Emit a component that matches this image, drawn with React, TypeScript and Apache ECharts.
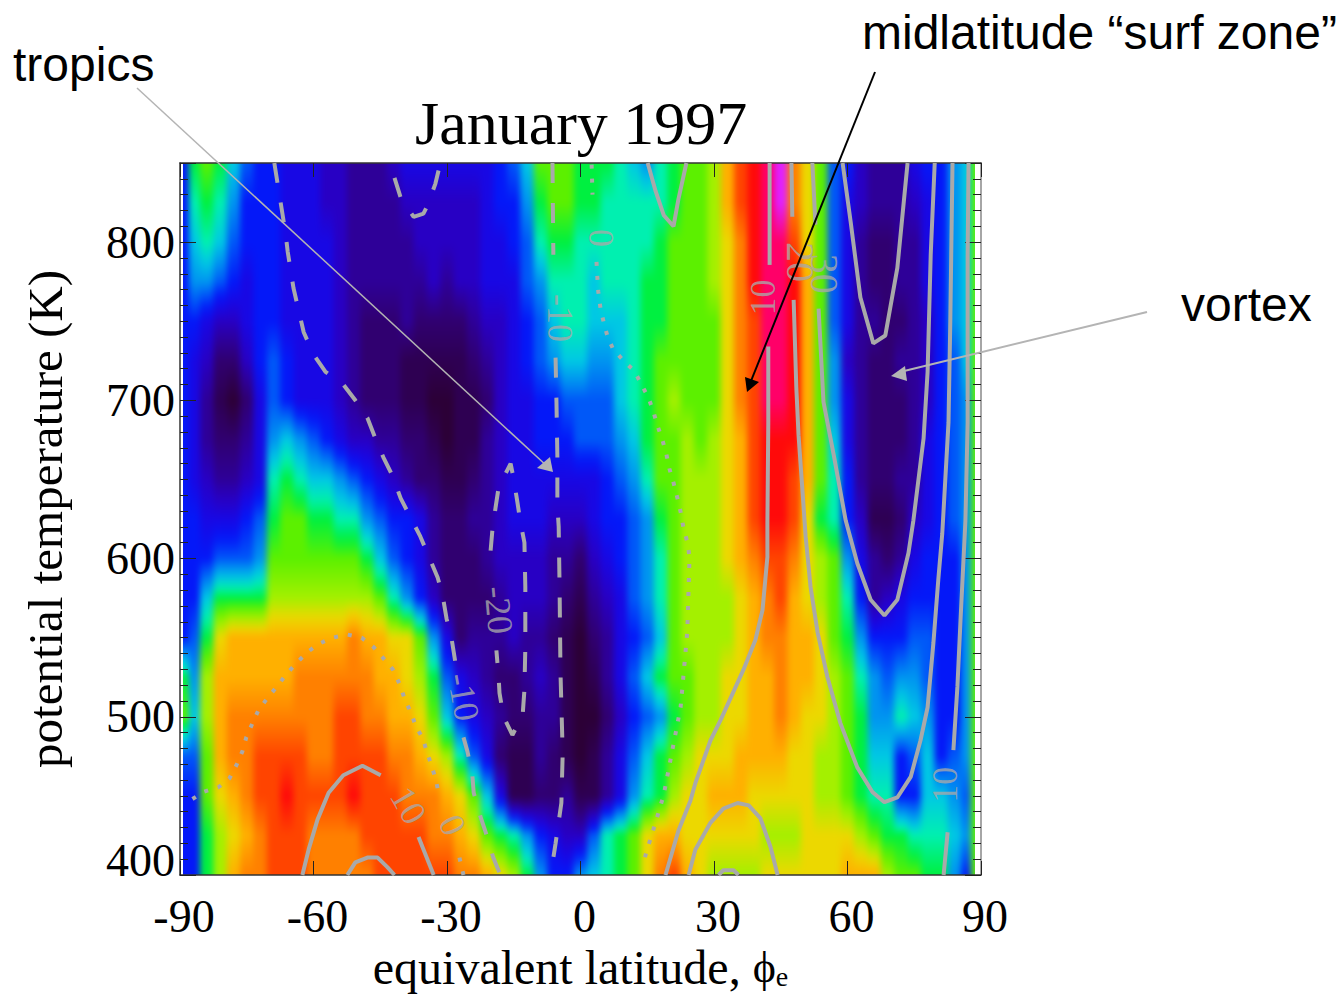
import React, { useEffect, useRef } from "react";
import * as echarts from "echarts";

const SERIF = "Liberation Serif";
const SANS = "Liberation Sans";
const GRID = { left: 180, top: 163, width: 801, height: 712, outerBoundsMode: "none" };

const latitudes = [-89,-87,-84,-81,-78,-75,-72,-69,-66,-63,-60,-57,-54,-51,-48,-45,-42,-39,-36,-33,-30,-27,-24,-21,-18,-15,-12,-9,-6,-3,0,3,6,9,12,15,18,21,24,27,30,33,36,39,42,45,48,51,54,57,60,63,66,69,72,75,78,81,84,87,88.5];
const latitudeEdgeMin = -89.3;
const latitudeEdgeMax = 88.9;

const thetaLevels = [850,825,800,775,750,725,700,675,650,625,600,575,550,525,500,475,450,425,400];

const row850 = [6,11,12,11,9,7,6,6,5,5, 5,4,4,3,3,3,4,5,5,5, 5,5,5,5,6,7,9,12,12,12, 11,11,11,10,9,8,10,11,12,12, 13,15,17,18,19,20,16,14,12,7, 6,4,3,3,3,5,6,6,8,9,12];
const row825 = [6,10,11,10,8,6,6,6,5,5, 5,4,4,3,3,3,3,4,4,4, 4,4,4,5,6,6,8,11,12,12, 11,11,10,10,10,10,10,11,12,12, 13,15,17,18,19,20,16,14,12,7, 5,4,3,3,3,4,5,6,8,9,12];
const row800 = [6,9,10,9,7,6,6,6,5,5, 5,5,4,3,3,3,3,3,4,4, 4,4,4,5,5,6,7,10,11,11, 10,10,10,10,10,10,11,12,12,12, 13,14,16,18,19,19,17,14,12,7, 5,3,2,2,3,3,5,6,8,9,12];
const row775 = [6,8,8,7,6,5,6,6,5,5, 5,5,4,3,3,3,3,3,3,4, 3,4,4,5,5,5,7,8,10,10, 10,9,10,10,10,11,11,12,12,12, 13,14,16,18,19,19,18,15,12,7, 5,3,2,2,3,3,5,6,8,9,12];
const row750 = [6,6,5,4,4,5,6,6,5,5, 5,5,4,3,2,2,2,3,2,2, 2,2,3,4,4,5,6,7,9,10, 10,9,9,9,10,11,11,12,12,12, 12,14,16,17,19,19,18,15,12,7, 5,3,3,2,2,3,4,6,8,9,12];
const row725 = [6,5,4,2,2,4,6,7,6,5, 5,5,4,3,2,2,2,1,1,1, 1,1,2,3,4,5,6,7,8,9, 9,8,8,9,10,11,12,12,12,12, 12,14,16,17,19,19,18,15,12,8, 4,3,2,2,3,3,4,6,7,9,12];
const row700 = [6,5,3,1,0,2,5,7,6,5, 5,5,4,3,2,2,2,1,1,0, 0,1,1,2,4,5,5,6,6,7, 7,7,7,9,10,11,12,13,12,12, 12,14,16,17,19,19,18,15,12,8, 5,3,2,2,2,3,4,6,7,8,12];
const row675 = [6,5,3,2,2,3,5,8,9,8, 7,6,5,4,4,3,3,2,2,1, 0,1,1,3,4,5,5,6,6,6, 7,7,7,8,9,11,12,12,13,12, 13,14,15,17,18,18,18,15,12,9, 5,3,2,2,2,3,5,6,7,8,12];
const row650 = [6,5,4,3,3,4,5,10,11,10, 9,9,8,7,6,5,4,3,2,2, 1,1,2,3,4,5,5,5,5,5, 5,5,6,7,8,10,12,12,13,13, 13,14,15,17,18,18,17,15,12,10, 6,3,2,2,3,3,5,6,7,8,12];
const row625 = [6,6,5,5,5,6,7,11,12,12, 11,11,10,10,8,7,6,6,5,3, 2,2,3,3,4,5,5,5,4,4, 4,5,6,6,7,8,11,12,13,13, 13,14,15,17,18,18,17,14,11,10, 6,4,1,1,2,4,5,6,7,8,12];
const row600 = [6,6,6,7,7,7,8,12,12,12, 12,12,12,12,11,9,7,6,5,3, 2,2,2,3,4,4,4,4,3,3, 2,4,5,6,7,8,10,12,13,13, 13,14,15,16,17,17,16,14,13,12, 8,5,3,2,3,5,6,6,6,8,12];
const row575 = [6,6,9,11,11,11,11,13,13,13, 13,13,13,13,13,12,10,8,6,4, 2,2,2,2,3,4,4,4,3,2, 1,3,4,5,7,8,10,12,13,13, 13,13,14,15,16,17,15,14,13,12, 10,6,3,4,5,6,6,6,6,8,12];
const row550 = [6,7,11,14,15,15,15,15,15,15, 15,15,15,16,15,15,14,14,12,8, 5,2,3,3,3,4,3,3,2,1, 0,2,3,5,6,7,9,12,13,13, 13,13,14,15,16,16,15,15,14,12, 11,8,6,6,6,7,7,6,6,8,12];
const row525 = [11,8,13,15,15,15,15,15,15,16, 16,16,16,16,16,15,15,14,13,11, 7,5,4,3,2,2,3,4,3,1, 0,1,3,5,7,9,11,12,12,13, 13,14,14,15,15,16,15,15,14,13, 12,10,8,7,8,8,7,6,6,8,12];
const row500 = [12,9,13,15,16,16,16,16,16,16, 16,16,17,17,16,16,15,15,14,12, 9,6,5,4,3,2,2,3,3,1, 0,0,2,4,6,7,8,11,12,13, 13,14,14,15,15,16,15,14,14,13, 12,11,8,8,10,9,8,6,6,8,12];
const row475 = [7,7,12,15,16,16,17,17,17,17, 16,16,17,17,17,17,16,16,15,14, 13,10,7,5,2,1,1,3,2,1, 0,1,3,5,7,9,11,12,13,14, 14,14,15,15,15,15,14,14,13,13, 12,11,9,9,6,7,9,6,7,8,12];
const row450 = [6,6,12,14,15,16,17,17,18,17, 17,17,17,18,17,17,17,16,16,16, 15,14,12,9,5,1,1,2,2,3, 1,1,3,5,8,10,11,13,14,14, 15,15,15,14,14,14,14,14,13,13, 12,11,10,10,6,6,9,9,8,7,12];
const row425 = [6,6,11,13,14,15,16,17,17,17, 16,16,16,16,17,17,17,17,17,16, 16,15,14,12,11,10,8,6,5,4, 4,7,10,11,12,14,15,15,14,14, 14,14,14,14,13,13,13,14,14,14, 14,13,12,11,11,10,10,10,9,8,12];
const row400 = [6,6,11,13,15,16,16,17,17,17, 16,16,16,16,16,17,17,17,17,17, 17,16,16,15,14,13,11,8,6,6, 8,9,10,11,12,14,16,17,15,14, 13,13,13,13,14,14,14,14,14,14, 15,15,15,13,12,12,11,11,8,6,12];
const fieldRows = [row850,row825,row800,row775,row750,row725,row700,row675,row650,row625,row600,row575,row550,row525,row500,row475,row450,row425,row400];

const levelColors = ["#2c0036","#2e0052","#300070","#2e0098","#2800c4","#1808e4","#0418f8","#0058f8","#0094f0","#00c8e4","#00f0b0","#00f040","#5cf000","#a4f000","#ecd800","#ffb000","#ff8000","#ff4400","#ff0a0a","#ff0068","#e020ff"];

const yTicks = [400,500,600,700,800];
const xTicks = [-90,-60,-30,0,30,60,90];

const dashSouthA = [[-68.8,850],[-67.9,834],[-66.3,806],[-65.8,794],[-64.5,771],[-62.2,743],[-60,729],[-57.3,718],[-53.3,710],[-50.6,700],[-47.9,689],[-46.1,676],[-44.3,664],[-42.2,652],[-40.4,638],[-38.2,626],[-36,614],[-34.2,602],[-32.1,588],[-31,577],[-30.1,562],[-29,550],[-28.1,534]];
const dashSouthB = [[-26.3,487],[-25.4,478],[-24.3,463],[-24,452],[-22.5,437],[-21.3,427],[-19.6,411],[-18,400]];
const dashEqA = [[-6.3,850],[-6.1,792]];
const dashEqB = [[-5.6,727],[-5.4,699],[-5.2,665],[-5.2,634],[-4.9,620],[-4.7,582],[-4.5,528],[-4,477],[-4.3,445.5],[-5.6,420],[-6.7,400]];
const dashTop = [[-41.8,840.6],[-40.4,828],[-37.5,816],[-35.3,818],[-34.4,823],[-32.6,837],[-31.5,850]];
const dashLobeA = [[-20.2,605],[-19.8,618],[-19.1,632],[-18.4,645],[-15.7,660],[-15.1,651.6],[-14.2,636],[-13.5,623],[-12.6,610],[-12.4,582],[-12.4,544],[-12.6,517],[-13,501],[-15.3,488.5],[-17.3,500],[-18.2,515],[-18.4,525],[-18.9,542]];
const dotSouthA = [[-87.2,448],[-84.7,452.5],[-81.3,455.6],[-78.9,461],[-77.3,469.5],[-76,478],[-75.1,487],[-73.7,496],[-72.4,504],[-70.3,512],[-68.1,519.5],[-66.1,527],[-63.8,534],[-61.3,541],[-58.9,546],[-55.7,550],[-52.4,552],[-49.2,550],[-46.5,544],[-44.3,537],[-42.2,530],[-40.7,521],[-39.6,512],[-38.2,503],[-36.9,493.5],[-35.5,486.6],[-34.4,477],[-33.3,467.6],[-32.4,459],[-31.7,449]];
const dotSouthB = [[-27.2,411],[-26.3,400]];
const dotNorthA = [[2.5,849],[2.7,830]];
const dotNorthB = [[3.6,787.5],[3.8,777],[4,768.5],[4.5,758],[5.2,749.5],[6.1,740],[7.4,732],[9.7,725],[12.1,718.6],[13.7,710],[15.3,701.5],[16.4,692.7],[17.3,684],[18.4,675],[19.3,666],[20,656.6],[20.9,648],[21.8,638],[22.5,629.5],[23.1,620],[24,610.5],[24.5,601],[24.3,582],[24,553.6],[23.4,534.6],[22.5,506],[21.3,488.5],[20,469.5],[18.7,450.6],[16.9,433.5],[14.8,414.5],[13.9,405]];
const solidSouth10A = [[-62.5,400],[-61.1,416],[-59.1,435],[-56.6,452],[-53.3,463],[-49,469],[-44.9,463]];
const solidSouth10B = [[-36.4,424],[-33,400]];
const solidSouth20 = [[-52.4,400],[-50.6,408],[-47.9,411],[-45.6,411],[-43.4,405],[-41.8,400]];
const solidTopU = [[15.1,850],[16.9,832],[18.7,817],[20.9,810],[22,827],[23.8,850]];
const solid10A = [[42.5,850],[42.5,785.6]];
const solid10B = [[42.2,734],[42.2,686],[42,623],[42,601],[40.9,567.5],[39.3,548.5],[36.6,529.6],[31.5,498],[29.2,485],[25.8,458],[24.7,447],[22,428],[19.1,400]];
const solidArc = [[24.3,400],[25.8,416],[29.2,433],[32.1,442],[35.3,445.5],[37.8,444],[40.4,436],[42.7,417.7],[44.3,400]];
const solidTiny = [[31,400],[32.1,403],[34.4,403],[35.5,400]];
const solid20A = [[47.4,850],[47.6,816]];
const solid20B = [[47.9,763.5],[48.5,708],[49,678],[50.1,634],[50.6,613.7],[51.7,582],[53.3,553],[55.5,525],[58.4,496],[62.2,468],[65.6,452.5],[68.3,446],[71.2,449],[74.2,462],[76.4,485],[78,506],[79.3,546.6],[80.4,586.5],[81.3,616],[82.7,686],[83.1,749.5],[83.6,850]];
const solid30A = [[52.1,850],[52.8,811]];
const solid30B = [[53.5,758],[54.6,699],[56.9,665.5],[59.6,624],[62.2,597],[65.2,574],[68.3,564],[71.2,574],[73.7,603.5],[74.8,624],[77.1,676],[78,718],[78.7,792],[79.6,850]];
const solidVortex = [[58.9,850],[60.7,813],[62.9,765],[65.8,736],[68.5,741],[71.2,783.7],[73.5,850]];
const solidFarA = [[87.2,850],[87,792],[87,686],[86.5,624],[85.4,561],[84.7,519],[83.8,479]];
const solidFarB = [[82.5,427],[81.6,400]];

const dashedLines = [dashSouthA,dashSouthB,dashEqA,dashEqB,dashTop,dashLobeA];
const dottedLines = [dotSouthA,dotSouthB,dotNorthA,dotNorthB];
const solidLines = [solidSouth10A,solidSouth10B,solidSouth20,solidTopU,solid10A,solid10B,solidArc,solidTiny,solid20A,solid20B,solid30A,solid30B,solidVortex,solidFarA,solidFarB];

const contourLabels: [number, number, string, number, number][] = [
  [-4.5,752,"-10",-90,36],[4.5,802.6,"0",-90,36],[40.9,765,"10",90,36],[49.4,787.5,"20",-90,40],[54.8,780,"30",-90,40],
  [-38.7,444,"10",-60,36],[-28.8,431.6,"0",-65,36],[-26.3,512.5,"-10",-80,36],[-18.4,567.5,"-20",-85,36],[82,457,"10",90,36],
];

const GRAY = "#a9a9a9";

function colorAt(level: number) {
  return echarts.color.lerp(level / 20, levelColors) as string;
}

function fieldOption() {
  const data = latitudes.map((lat, i) => {
    const l = i === 0 ? latitudeEdgeMin : (latitudes[i - 1] + lat) / 2;
    const r = i === latitudes.length - 1 ? latitudeEdgeMax : (lat + latitudes[i + 1]) / 2;
    return [l, r, i];
  });
  const pad = 20;
  return {
    animation: false,
    grid: GRID,
    xAxis: { type: "value", min: -90, max: 90, show: false },
    yAxis: { type: "value", min: 400, max: 850, show: false },
    series: [{
      type: "custom",
      clip: false,
      silent: true,
      data,
      encode: { x: [0, 1] },
      renderItem(_: any, api: any) {
        const col = api.value(2);
        const x0 = api.coord([api.value(0), 850])[0];
        const x1 = api.coord([api.value(1), 850])[0];
        const top = api.coord([0, 850])[1] - pad;
        const bot = api.coord([0, 400])[1] + pad;
        const h = bot - top;
        const stops: { offset: number; color: string }[] = [];
        stops.push({ offset: 0, color: colorAt(fieldRows[0][col]) });
        thetaLevels.forEach((t, ri) => {
          const v = fieldRows[ri][col];
          const y = api.coord([0, t])[1];
          if (ri === 0) { stops.push({ offset: (y - top) / h, color: colorAt(v) }); return; }
          const prevV = fieldRows[ri - 1][col];
          const prevY = api.coord([0, thetaLevels[ri - 1]])[1];
          for (let k = 1; k <= 5; k++) {
            const f = k / 5;
            stops.push({ offset: (prevY + (y - prevY) * f - top) / h, color: colorAt(prevV + (v - prevV) * f) });
          }
        });
        stops.push({ offset: 1, color: colorAt(fieldRows[fieldRows.length - 1][col]) });
        const edgeL = col === 0 ? x0 - pad : x0;
        const edgeR = col === latitudes.length - 1 ? x1 + pad : x1;
        return {
          type: "rect",
          shape: { x: edgeL, y: top, width: edgeR - edgeL + 1, height: h },
          style: { fill: new echarts.graphic.LinearGradient(0, 0, 0, 1, stops) },
        };
      },
    }],
  };
}

function lineSeries(lines: number[][][], type: any, cap: string) {
  return lines.map((d) => ({
    type: "line",
    data: d,
    showSymbol: false,
    silent: true,
    clip: true,
    z: 3,
    lineStyle: { color: GRAY, width: 4, type, cap },
  }));
}

function arrow(line: number[], head: number[][], color: string, width: number) {
  return [
    { type: "line", z: 100, shape: { x1: line[0], y1: line[1], x2: line[2], y2: line[3] }, style: { stroke: color, lineWidth: width } },
    { type: "polygon", z: 100, shape: { points: head }, style: { fill: color } },
  ];
}

function note(text: string, x: number, y: number) {
  return { type: "text", z: 100, x, y, style: { text, fill: "#000", font: `48px "${SANS}"`, textAlign: "left", textVerticalAlign: "middle" } };
}

function overlayOption() {
  const yAxisBase = {
    type: "value", min: 400, max: 850, interval: 100, minorTick: { show: true, splitNumber: 10, length: 8, lineStyle: { color: "#222", width: 1 } },
    splitLine: { show: false }, minorSplitLine: { show: false },
    axisTick: { show: true, inside: true, length: 16, lineStyle: { color: "#222", width: 1 } },
  };
  const xAxisBase = {
    type: "value", min: -90, max: 90, interval: 30, splitLine: { show: false },
    axisTick: { show: true, inside: true, length: 14, lineStyle: { color: "#222", width: 1 } },
  };
  return {
    animation: false,
    backgroundColor: "transparent",
    title: { text: "January 1997", left: 415, top: 92, padding: 0, textStyle: { fontFamily: SERIF, fontWeight: "normal", fontSize: 62, color: "#000" } },
    grid: GRID,
    xAxis: [
      { ...xAxisBase, position: "bottom",
        axisLine: { show: true, onZero: false, lineStyle: { color: "#333", width: 1.5 } },
        axisLabel: { show: true, margin: 18, color: "#000", fontFamily: SERIF, fontSize: 46, padding: [0, 0, 0, 8], customValues: xTicks },
        name: "equivalent latitude, {phi|\u03d5}{sub|e}", nameLocation: "middle", nameGap: 60,
        nameTextStyle: { color: "#000", fontFamily: SERIF, fontSize: 48, rich: { phi: { fontFamily: SERIF, fontSize: 44, color: "#000" }, sub: { fontFamily: SERIF, fontSize: 28, color: "#000", padding: [18, 0, 0, 0] } } },
      },
      { ...xAxisBase, position: "top", axisLine: { show: true, onZero: false, lineStyle: { color: "#333", width: 1.5 } }, axisLabel: { show: false } },
    ],
    yAxis: [
      { ...yAxisBase, position: "left",
        axisLine: { show: true, onZero: false, lineStyle: { color: "#333", width: 1.5 } },
        axisLabel: { show: true, margin: 5, color: "#000", fontFamily: SERIF, fontSize: 46, customValues: yTicks,
          formatter: (v: number) => (v === 400 ? `{low|${v}}` : `${v}`),
          rich: { low: { fontFamily: SERIF, fontSize: 46, color: "#000", padding: [0, 0, 30, 0] } } },
        name: "potential temperature (K)", nameLocation: "middle", nameGap: 110, nameRotate: 90,
        nameTextStyle: { color: "#000", fontFamily: SERIF, fontSize: 49 },
      },
      { ...yAxisBase, position: "right", axisLine: { show: true, onZero: false, lineStyle: { color: "#888", width: 1.5 } }, axisLabel: { show: false } },
    ],
    series: [
      ...lineSeries(dashedLines, [20, 20], "butt"),
      ...lineSeries(dottedLines, [4, 10], "butt"),
      ...lineSeries(solidLines, "solid", "butt"),
      {
        type: "scatter", symbolSize: 0, silent: true, z: 4,
        data: contourLabels.map(([lat, th, text, rot, size]) => ({
          value: [lat, th],
          label: { show: true, position: "inside", formatter: text, rotate: rot, color: GRAY, fontFamily: SERIF, fontSize: size, align: "center", verticalAlign: "middle" },
        })),
      },
    ],
    graphic: [
      ...arrow([137, 88, 548, 467], [[553, 472], [537, 468], [550, 457]], "#b4b4b4", 1.5),
      ...arrow([875, 72, 751, 381], [[747, 392], [745, 377], [759, 382]], "#000", 2),
      ...arrow([1147, 312, 900, 372], [[891, 376], [905, 366], [907, 381]], "#b4b4b4", 2),
      note("tropics", 13, 64),
      note("midlatitude \u201csurf zone\u201d", 862, 32),
      note("vortex", 1181, 304),
    ],
  };
}

export default function App() {
  const fieldRef = useRef<HTMLDivElement>(null);
  const overlayRef = useRef<HTMLDivElement>(null);
  useEffect(() => {
    const a = echarts.init(fieldRef.current!, null, { renderer: "svg" });
    const b = echarts.init(overlayRef.current!, null, { renderer: "svg" });
    a.setOption(fieldOption() as any);
    b.setOption(overlayOption() as any);
    return () => { a.dispose(); b.dispose(); };
  }, []);
  return (
    <div style={{ position: "absolute", left: 0, top: 0, width: 1341, height: 995, background: "#fff", overflow: "hidden" }}>
      <div style={{ position: "absolute", left: 183, top: 163, width: 792, height: 712, overflow: "hidden" }}>
        <div ref={fieldRef} style={{ position: "absolute", left: -183, top: -163, width: 1341, height: 995, filter: "blur(3px)" }} />
      </div>
      <div ref={overlayRef} style={{ position: "absolute", left: 0, top: 0, width: 1341, height: 995 }} />
    </div>
  );
}
